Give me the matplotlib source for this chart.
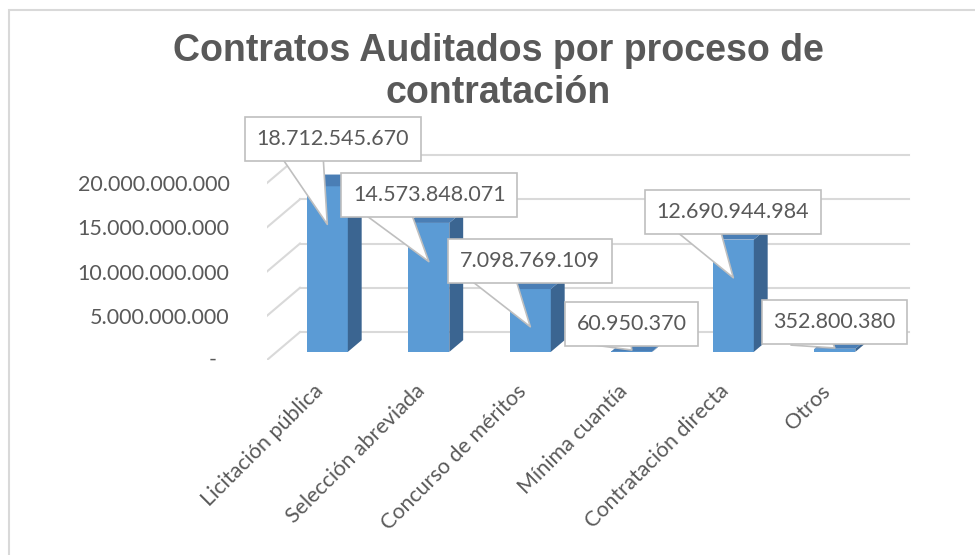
import numpy as np
import matplotlib
matplotlib.use("Agg")
from matplotlib import pyplot as plt
from matplotlib.patches import Polygon, Rectangle

categories = ['Licitación pública', 'Selección abreviada', 'Concurso de méritos',
              'Mínima cuantía', 'Contratación directa', 'Otros']
values = [18712545670, 14573848071, 7098769109, 60950370, 12690944984, 352800380]
yticks = [0, 5e9, 10e9, 15e9, 20e9]
ytick_labels = ['-', '5.000.000.000', '10.000.000.000', '15.000.000.000', '20.000.000.000']
title = 'Contratos Auditados por proceso de\ncontratación'

# layout of the fake 3d (oblique) view
DX, DY = 0.325, 3.16e9          # full wall depth in data units
D0, D1 = 0.29, 0.71             # bar front / back depth fractions
W = 0.404                       # bar width
label_dx = [0.15, 0.10, 0.09, 0.09, 0.09, 0.09]
label_y = [24.97e9, 18.64e9, 11.19e9, 4.07e9, 16.72e9, 4.29e9]
tip_frac = [0.77, 0.70, 0.40, 3.4, 0.66, 1.25]
relx = [0.28, 0.19, 0.2, 0.3, 0.24, 0.26]

front, top, side = '#5B9BD5', '#4A7EB5', '#3B6591'
grid_c = '#D9D9D9'
txt_c = '#595959'
font = 'Lato'

fig = plt.figure(figsize=(9.75, 5.55), dpi=100)
fig.add_artist(Rectangle((8.5 / 975, -0.1), 1.2, 1.1 - 9.5 / 555, transform=fig.transFigure,
                         fill=False, ec=grid_c, lw=1.5))
ax = fig.add_axes([267 / 975, 1 - 360 / 555, 645 / 975, 260 / 555])
ax.set_xlim(-0.5, -0.5 + 645 / 101.5)
ax.set_ylim(0, 260 / 8.85 * 1e9)
for s in ax.spines.values():
    s.set_visible(False)

x = np.arange(len(categories))
nx = len(categories)

# walls: back gridlines + side diagonals
for v in yticks:
    ax.plot([-0.5 + DX, nx - 0.5 + DX], [v + DY, v + DY], color=grid_c, lw=1.5, zorder=1)
    ax.plot([-0.5, -0.5 + DX], [v, v + DY], color=grid_c, lw=1.5, zorder=1)

# bars: front face via bar(), side and top as polygons
ax.bar(x + D0 * DX, values, width=W, bottom=D0 * DY, color=front, zorder=3)
for xi, v in zip(x, values):
    l, r = xi - W / 2, xi + W / 2
    side_poly = [(r + D0 * DX, D0 * DY), (r + D1 * DX, D1 * DY),
                 (r + D1 * DX, v + D1 * DY), (r + D0 * DX, v + D0 * DY)]
    top_poly = [(l + D0 * DX, v + D0 * DY), (r + D0 * DX, v + D0 * DY),
                (r + D1 * DX, v + D1 * DY), (l + D1 * DX, v + D1 * DY)]
    ax.add_patch(Polygon(side_poly, closed=True, fc=side, ec='none', zorder=3))
    ax.add_patch(Polygon(top_poly, closed=True, fc=top, ec='none', zorder=3))

# callout data labels
for i, v in enumerate(values):
    lab = f'{v:,}'.replace(',', '.')
    ax.annotate(lab, xy=(x[i] + D0 * DX, D0 * DY + tip_frac[i] * v),
                xytext=(x[i] + label_dx[i], label_y[i]),
                ha='center', va='center', fontsize=15.5, family=font, color=txt_c,
                bbox=dict(boxstyle='square,pad=0.54', fc='white', ec='#BFBFBF', lw=1.2),
                arrowprops=dict(arrowstyle='wedge,tail_width=2.2', fc='white', ec='#BFBFBF',
                                lw=1.2, patchA=None, shrinkA=0, shrinkB=0,
                                relpos=(relx[i], 0.3)),
                annotation_clip=False, zorder=5)

# axes labels (zero label "-" sits further left, like Excel's accounting format)
ax.set_xticks([])
ax.set_yticks(yticks, [''] + ytick_labels[1:])
ax.tick_params(axis='y', length=0, pad=27, labelsize=15.5, labelcolor=txt_c)
for t in ax.get_yticklabels():
    t.set_family(font)
ax.annotate(ytick_labels[0], xy=(-0.5, yticks[0]), xytext=(-50, 0), textcoords='offset pixels',
            ha='right', va='center', fontsize=15.5, family=font, color=txt_c,
            annotation_clip=False)

for i, c in enumerate(categories):
    ax.annotate(c, xy=(x[i], 0), xytext=(-5, -21), textcoords='offset pixels',
                rotation=45, rotation_mode='anchor', ha='right', va='top',
                fontsize=15.5, family=font, color=txt_c, annotation_clip=False)

fig.text(0.511, 0.94, title, ha='center', va='top', fontsize=27, fontweight='bold',
         family='Liberation Sans', color=txt_c, linespacing=1.2)

fig.savefig('out.png', dpi=100)
